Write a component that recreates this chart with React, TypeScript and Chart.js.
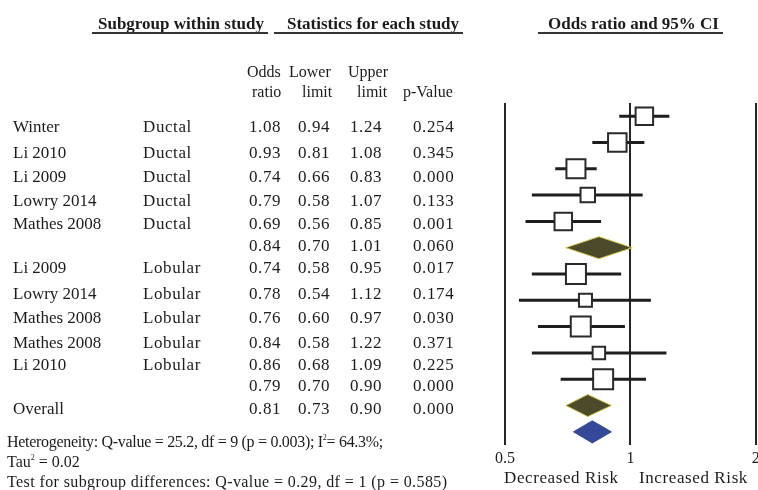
import React, { useEffect, useRef } from 'react';
import { Chart, registerables } from 'chart.js';

Chart.register(...registerables);

// ---------- data ----------
const studyNames = ['Winter', 'Li 2010', 'Li 2009', 'Lowry 2014', 'Mathes 2008', 'Li 2009', 'Lowry 2014', 'Mathes 2008', 'Mathes 2008', 'Li 2010'];
const subgroups = ['Ductal', 'Ductal', 'Ductal', 'Ductal', 'Ductal', 'Lobular', 'Lobular', 'Lobular', 'Lobular', 'Lobular'];
const oddsRatios = [1.08, 0.93, 0.74, 0.79, 0.69, 0.74, 0.78, 0.76, 0.84, 0.86];
const lowerLimits = [0.94, 0.81, 0.66, 0.58, 0.56, 0.58, 0.54, 0.60, 0.58, 0.68];
const upperLimits = [1.24, 1.08, 0.83, 1.07, 0.85, 0.95, 1.12, 0.97, 1.22, 1.09];
const pValues = ['0.254', '0.345', '0.000', '0.133', '0.001', '0.017', '0.174', '0.030', '0.371', '0.225'];
// relative study weights (box sizes)
const studyWeights = [9, 9.5, 9.75, 7.5, 9, 10.25, 6.75, 10.25, 6.5, 10.25];

const subgroupOR = [0.84, 0.79];
const subgroupLower = [0.70, 0.70];
const subgroupUpper = [1.01, 0.90];
const subgroupP = ['0.060', '0.000'];

const overallOR = 0.81;
const overallLower = 0.73;
const overallUpper = 0.90;
const overallP = '0.000';

const xTickValues = [0.5, 1, 2];

// ---------- layout / style ----------
const W = 758;
const H = 490;
const CANVAS_W = 772;
const FONT = "'Liberation Serif', 'Times New Roman', serif";
const TEXT = '#1c1c1c';
const BOX_SCALE = 2;
const DIAMOND_HALF = 0.42;
const ROW_Y = [126, 152, 176, 200, 223, 245, 267, 293, 317, 342, 364, 385, 408];

const studyRow = (i: number) => (i < 5 ? i : i + 1);
const summaryRows = [5, 11];
const overallRow = 12;

function diamond(or: number, lo: number, hi: number, row: number) {
  return [
    { x: lo, y: row },
    { x: or, y: row - DIAMOND_HALF },
    { x: hi, y: row },
    { x: or, y: row + DIAMOND_HALF },
    { x: lo, y: row },
  ];
}

type TProps = {
  x: number; y: number; size?: number; bold?: boolean; ls?: number; children: React.ReactNode;
};
function T({ x, y, size = 16, bold = false, ls = 0, children }: TProps) {
  return (
    <div
      style={{
        position: 'absolute',
        left: x,
        top: y - size / 2,
        fontFamily: FONT,
        fontSize: size,
        lineHeight: `${size}px`,
        fontWeight: bold ? 'bold' : 'normal',
        letterSpacing: ls,
        color: TEXT,
        whiteSpace: 'nowrap',
      }}
    >
      {children}
    </div>
  );
}

function Rule({ x1, x2, y }: { x1: number; x2: number; y: number }) {
  return <div style={{ position: 'absolute', left: x1, top: y, width: x2 - x1, height: 2, background: '#333' }} />;
}

function ForestChart() {
  const ref = useRef<HTMLCanvasElement | null>(null);
  useEffect(() => {
    if (!ref.current) return;
    const lineDiamond = (pts: any[], fillC: string, borderC: string) => ({
      type: 'line' as const,
      data: pts,
      fill: 'shape',
      backgroundColor: fillC,
      borderColor: borderC,
      borderWidth: 1,
      pointRadius: 0,
      pointHoverRadius: 0,
      tension: 0,
      order: 1,
    });
    const whiskers = lowerLimits.map((lo, i) => ({
      type: 'line' as const,
      data: [
        { x: lo, y: studyRow(i) },
        { x: upperLimits[i], y: studyRow(i) },
      ],
      borderColor: '#1e1e1e',
      borderWidth: 3,
      pointRadius: 0,
      pointHoverRadius: 0,
      fill: false,
      order: 3,
    }));
    const radii = studyWeights.map((w) => (w * BOX_SCALE - 0.5) / Math.SQRT2);
    const chart = new Chart(ref.current, {
      type: 'scatter',
      data: {
        datasets: [
          {
            type: 'scatter',
            label: 'Study',
            data: oddsRatios.map((v, i) => ({ x: v, y: studyRow(i) })),
            pointStyle: 'rect',
            pointRadius: radii,
            pointHoverRadius: radii,
            backgroundColor: '#ffffff',
            borderColor: '#2a2a2a',
            borderWidth: 2,
            order: 0,
          } as any,
          lineDiamond(diamond(subgroupOR[0], subgroupLower[0], subgroupUpper[0], summaryRows[0]), '#4d4a2b', '#cfc64a'),
          lineDiamond(diamond(subgroupOR[1], subgroupLower[1], subgroupUpper[1], summaryRows[1]), '#4d4a2b', '#cfc64a'),
          lineDiamond(diamond(overallOR, overallLower, overallUpper, overallRow), '#35499a', '#35499a'),
          ...whiskers,
        ],
      },
      options: {
        animation: false,
        responsive: false,
        devicePixelRatio: 1,
        layout: { padding: { left: 505, right: CANVAS_W - 756, top: 103, bottom: 0 } },
        plugins: { legend: { display: false }, tooltip: { enabled: false }, title: { display: false } },
        scales: {
          x: {
            type: 'logarithmic',
            position: 'bottom',
            min: 0.5,
            max: 2,
            afterBuildTicks: (s: any) => {
              s.ticks = xTickValues.map((v) => ({ value: v }));
            },
            afterFit: (s: any) => {
              s.height = 45;
            },
            ticks: {
              callback: (v: any) => String(v),
              color: TEXT,
              font: { family: FONT, size: 16 },
              padding: 4,
              maxRotation: 0,
              autoSkip: false,
            },
            grid: { color: '#262626', lineWidth: 2, drawTicks: false },
            border: { display: false },
          },
          y: { type: 'linear', min: -0.5, max: 12.5, reverse: true, offset: false, display: false },
        },
      } as any,
    });
    return () => chart.destroy();
  }, []);
  return (
    <canvas
      ref={ref}
      width={CANVAS_W}
      height={H}
      style={{ position: 'absolute', left: 0, top: 0, width: CANVAS_W, height: H }}
    />
  );
}

const SUP = { fontSize: 8, verticalAlign: 'top', lineHeight: '8px' } as const;

export default function App() {
  const colOR = 249;
  const colLo = 298;
  const colUp = 350;
  const colP = 413;
  const numLS = 0.6;
  return (
    <div style={{ position: 'absolute', left: 0, top: 0, width: W, height: H, overflow: 'hidden', background: '#fff' }}>
      <ForestChart />
      {/* headers */}
      <T x={98} y={23} size={17} bold>Subgroup within study</T>
      <T x={287} y={23} size={17} bold>Statistics for each study</T>
      <T x={548} y={23} size={17} bold>Odds ratio and 95% CI</T>
      <Rule x1={92} x2={268} y={32} />
      <Rule x1={274} x2={463} y={32} />
      <Rule x1={538} x2={723} y={32} />

      <T x={247} y={72}>Odds</T>
      <T x={289} y={72}>Lower</T>
      <T x={348} y={72}>Upper</T>
      <T x={252} y={92}>ratio</T>
      <T x={302} y={92}>limit</T>
      <T x={357} y={92}>limit</T>
      <T x={403} y={92}>p-Value</T>

      {studyNames.map((name, i) => {
        const y = ROW_Y[studyRow(i)];
        return (
          <React.Fragment key={i}>
            <T x={13} y={y} size={17}>{name}</T>
            <T x={143} y={y} size={17} ls={0.6}>{subgroups[i]}</T>
            <T x={colOR} y={y} size={17} ls={numLS}>{oddsRatios[i].toFixed(2)}</T>
            <T x={colLo} y={y} size={17} ls={numLS}>{lowerLimits[i].toFixed(2)}</T>
            <T x={colUp} y={y} size={17} ls={numLS}>{upperLimits[i].toFixed(2)}</T>
            <T x={colP} y={y} size={17} ls={numLS}>{pValues[i]}</T>
          </React.Fragment>
        );
      })}
      {subgroupOR.map((v, k) => {
        const y = ROW_Y[summaryRows[k]];
        return (
          <React.Fragment key={'s' + k}>
            <T x={colOR} y={y} size={17} ls={numLS}>{v.toFixed(2)}</T>
            <T x={colLo} y={y} size={17} ls={numLS}>{subgroupLower[k].toFixed(2)}</T>
            <T x={colUp} y={y} size={17} ls={numLS}>{subgroupUpper[k].toFixed(2)}</T>
            <T x={colP} y={y} size={17} ls={numLS}>{subgroupP[k]}</T>
          </React.Fragment>
        );
      })}
      <T x={13} y={ROW_Y[overallRow]} size={17}>Overall</T>
      <T x={colOR} y={ROW_Y[overallRow]} size={17} ls={numLS}>{overallOR.toFixed(2)}</T>
      <T x={colLo} y={ROW_Y[overallRow]} size={17} ls={numLS}>{overallLower.toFixed(2)}</T>
      <T x={colUp} y={ROW_Y[overallRow]} size={17} ls={numLS}>{overallUpper.toFixed(2)}</T>
      <T x={colP} y={ROW_Y[overallRow]} size={17} ls={numLS}>{overallP}</T>

      <T x={7} y={442} ls={-0.3}>
        Heterogeneity: Q-value = 25.2, df = 9 (p = 0.003); I<sup style={SUP}>2</sup>= 64.3%;
      </T>
      <T x={7} y={462}>
        Tau<sup style={SUP}>2</sup> = 0.02
      </T>
      <T x={7} y={482} ls={0.4}>Test for subgroup differences: Q-value = 0.29, df = 1 (p = 0.585)</T>

      <T x={504} y={477} size={17} ls={0.6}>Decreased Risk</T>
      <T x={639} y={477} size={17} ls={0.6}>Increased Risk</T>
    </div>
  );
}
